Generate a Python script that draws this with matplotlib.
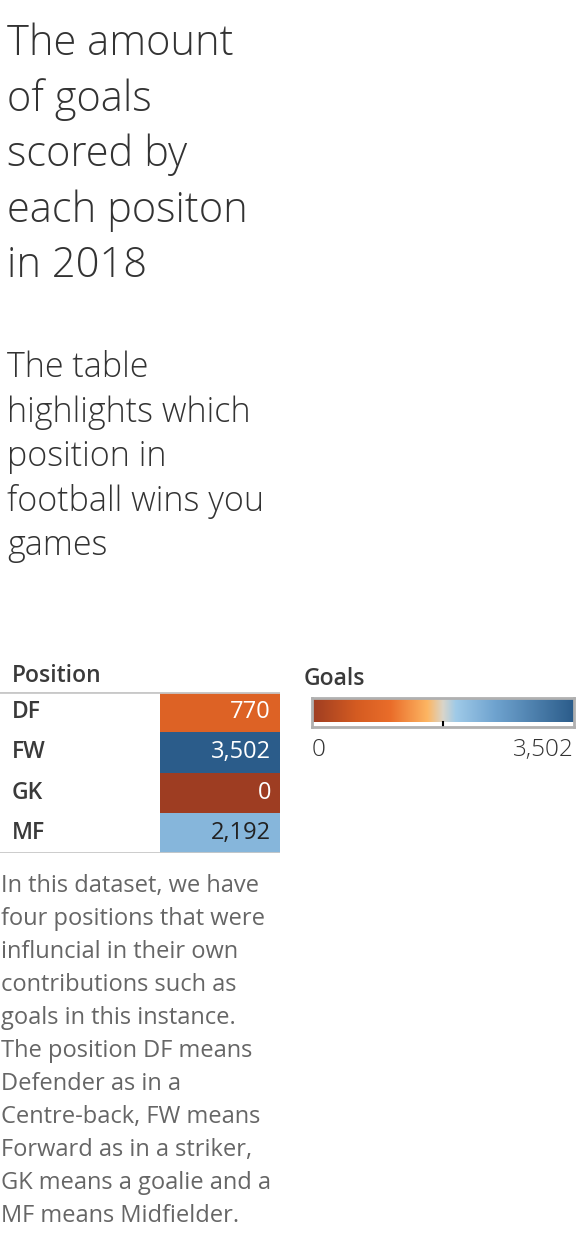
import matplotlib
matplotlib.use("Agg")
import matplotlib.pyplot as plt
import numpy as np
from matplotlib.colors import LinearSegmentedColormap, Normalize

# Dados
posicoes = ["DF", "FW", "GK", "MF"]
gols = [770, 3502, 0, 2192]
rotulos = ["770", "3,502", "0", "2,192"]

titulo = ["The amount", "of goals", "scored by", "each positon", "in 2018"]
subtitulo = ["The table", "highlights which", "position in", "football wins you", "games"]
nota = ["In this dataset, we have", "four positions that were", "influncial in their own",
        "contributions such as", "goals in this instance.", "The position DF means",
        "Defender as in a", "Centre-back, FW means", "Forward as in a striker,",
        "GK means a goalie and a", "MF means Midfielder."]

W, H = 584, 1244
plt.rcParams['font.family'] = ['Open Sans', 'DejaVu Sans']

fig = plt.figure(figsize=(W / 100, H / 100), dpi=100)
fig.patch.set_facecolor("white")

def fx(x):
    return x / W

def fy(y):
    return 1 - y / H

def eixo(x0, y0, x1, y1):
    return fig.add_axes([fx(x0), fy(y1), fx(x1) - fx(x0), (y1 - y0) / H])

# Titulo e subtitulo
for i, linha in enumerate(titulo):
    fig.text(fx(7), fy(44 + i * 55.5), linha, fontsize=30, color="#333333",
             va="center", fontweight="light")
for i, linha in enumerate(subtitulo):
    fig.text(fx(7), fy(368 + i * 44.5), linha, fontsize=24.5, color="#333333",
             va="center", fontweight="light")

# Paleta divergente laranja-azul
cmap = LinearSegmentedColormap.from_list(
    "laranja_azul",
    [(0.0, "#9e3d22"), (0.167, "#d45b21"), (0.3, "#ea6d2a"), (0.44, "#fdb562"),
     (0.5, "#d9d5c9"), (0.55, "#9fcae8"), (0.7, "#6fa3cf"), (1.0, "#2b5c8a")])
norm = Normalize(vmin=0, vmax=max(gols))

# Tabela
fig.text(fx(12), fy(676), "Position", fontsize=16.5, color="#3a3a3a", va="center",
         fontweight="semibold")
ax = eixo(0, 692, 280, 853)
ax.set_xlim(0, 280)
ax.set_ylim(len(posicoes), 0)
for i, (p, g, r) in enumerate(zip(posicoes, gols, rotulos)):
    cor = cmap(norm(g))
    ax.add_patch(plt.Rectangle((160, i), 120, 1, facecolor=cor, edgecolor="none"))
    ax.text(12, i + 0.5, p, fontsize=16.5, color="#3a3a3a", va="center", ha="left",
            fontweight="semibold")
    lum = 0.299 * cor[0] + 0.587 * cor[1] + 0.114 * cor[2]
    ax.text(271, i + 0.5, r, fontsize=17, color="white" if lum < 0.6 else "#222222",
            va="center", ha="right")
ax.axhline(0, color="#c8c8c8", lw=2)
ax.axhline(len(posicoes), color="#c8c8c8", lw=2)
ax.axis("off")

# Legenda de cores
fig.text(fx(304), fy(679), "Goals", fontsize=16.5, color="#3a3a3a", va="center",
         fontweight="semibold")
axl = eixo(312, 698, 574, 727)
grad = np.linspace(0, max(gols), 256).reshape(1, -1)
axl.imshow(grad, aspect="auto", cmap=cmap, norm=norm, extent=[0, max(gols), 0, 1])
axl.set_xticks([])
axl.set_yticks([])
for s in axl.spines.values():
    s.set_color("#b0b0b0")
    s.set_linewidth(2)
axl.plot([max(gols) / 2, max(gols) / 2], [0, -0.15], color="black", lw=1.5, clip_on=False)
fig.text(fx(312), fy(750), "0", fontsize=17.5, color="#333333", va="center", ha="left",
         fontweight="light")
fig.text(fx(574), fy(750), "3,502", fontsize=17.5, color="#333333", va="center", ha="right",
         fontweight="light")

# Nota
for i, linha in enumerate(nota):
    fig.text(fx(1), fy(886 + i * 33), linha, fontsize=17, color="#666666", va="center")

fig.savefig("out.png", dpi=100)
